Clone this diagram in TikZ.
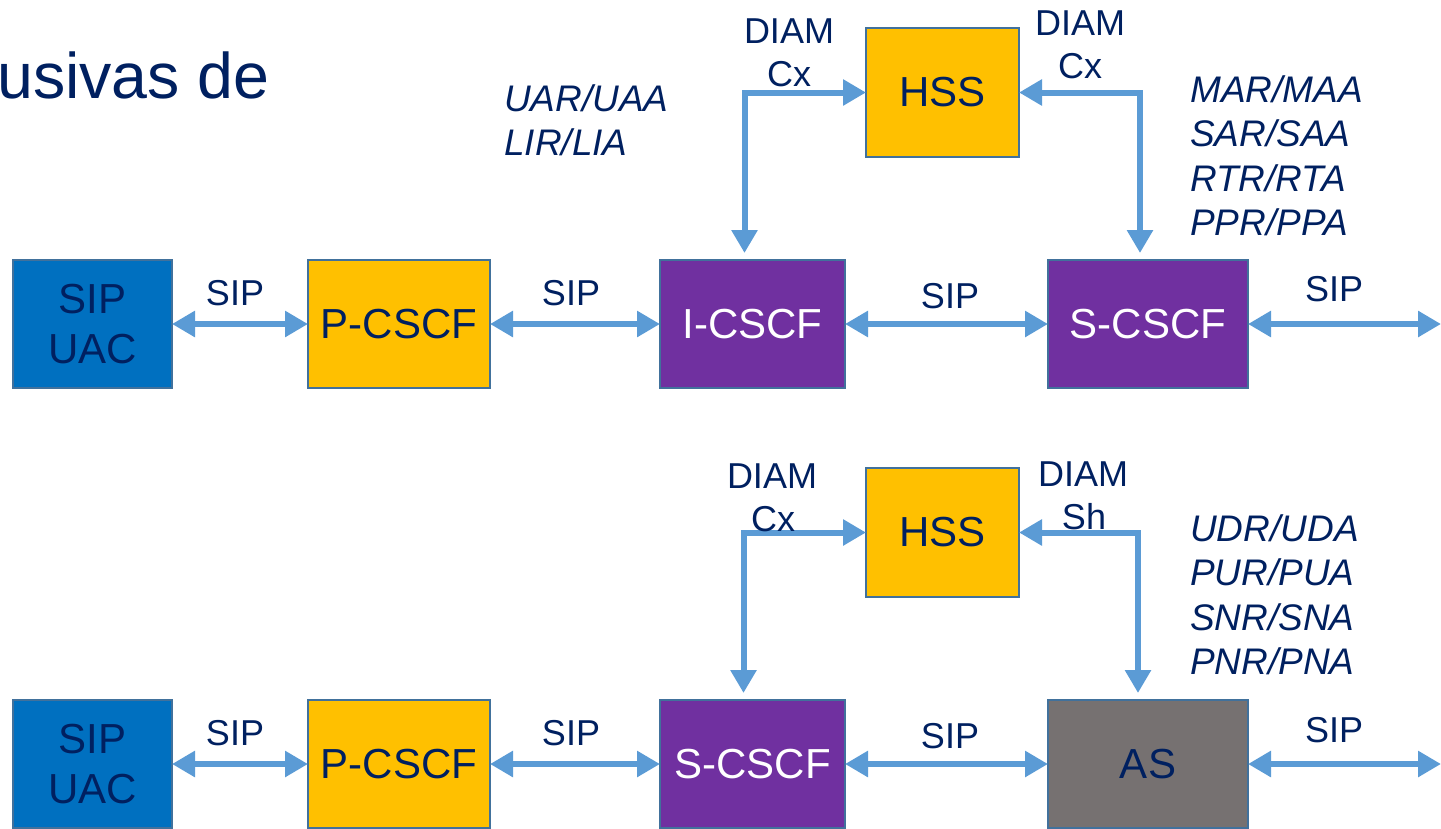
\documentclass[tikz,border=0pt]{standalone}
\usepackage{fontspec}
\setmainfont{Liberation Sans}
\usetikzlibrary{arrows.meta}
\definecolor{navy}{RGB}{0,32,96}
\definecolor{bluebox}{RGB}{0,112,192}
\definecolor{yellowbox}{RGB}{255,192,0}
\definecolor{purplebox}{RGB}{112,48,160}
\definecolor{graybox}{RGB}{118,113,113}
\definecolor{bordc}{RGB}{65,113,156}
\definecolor{arrowc}{RGB}{91,155,213}
\tikzset{
  box/.style={draw=bordc, line width=2pt, inner sep=0pt, outer sep=0pt, minimum height=128pt,
    font=\fontsize{42}{50}\selectfont, text=navy, align=center},
  lab/.style={font=\fontsize{36}{42}\selectfont, text=navy, anchor=base, inner sep=0pt},
  msg/.style={font=\fontsize{37}{44}\selectfont\itshape, text=navy, anchor=base west, inner sep=0pt},
  conn/.style={draw=arrowc, line width=6pt, {Triangle[length=23pt,width=25pt]}-{Triangle[length=23pt,width=25pt]}}
}
\begin{document}
\begin{tikzpicture}[x=1pt,y=-1pt]
\useasboundingbox (0,0) rectangle (1441,828);
% title fragment
\node[anchor=base west, inner sep=0pt, font=\fontsize{64.5}{70}\selectfont, text=navy] (title) at (-3,98) {usivas de};

% ---------- top row ----------
\node[box, fill=bluebox, minimum width=159pt] (uac1) at (92.5,324) {SIP\\UAC};
\node[box, fill=yellowbox, minimum width=182pt] (pcscf1) at (399,324) {P-CSCF};
\node[box, fill=purplebox, minimum width=185pt, text=white] (icscf) at (752.5,324) {I-CSCF};
\node[box, fill=purplebox, minimum width=200pt, text=white] (scscf1) at (1148,324) {S-CSCF};
\node[box, fill=yellowbox, minimum width=153pt, minimum height=129pt] (hss1) at (942.5,92.5) {HSS};
\coordinate (out1) at (1441,324);

\draw[conn] (uac1.east) -- (pcscf1.west);
\draw[conn] (pcscf1.east) -- (icscf.west);
\draw[conn] (icscf.east) -- (scscf1.west);
\draw[conn] (scscf1.east) -- (out1);
\draw[conn] (hss1.west) -| ([xshift=-8pt,yshift=7pt]icscf.north);
\draw[conn] (hss1.east) -| ([xshift=-8pt,yshift=7pt]scscf1.north);

\node[lab] (s1) at (235,305) {SIP};
\node[lab] (s2) at (571,305) {SIP};
\node[lab] (s3) at (950,308) {SIP};
\node[lab] (s4) at (1334,301) {SIP};
\node[lab] (d1) at (789,43) {DIAM};
\node[lab] (c1) at (789,86) {Cx};
\node[lab] (d2) at (1080,35) {DIAM};
\node[lab] (c2) at (1080,78) {Cx};
\node[msg] (u1) at (504,111) {UAR/UAA};
\node[msg] (u2) at (504,155) {LIR/LIA};
\node[msg] (m1) at (1190,102) {MAR/MAA};
\node[msg] (m2) at (1190,146.5) {SAR/SAA};
\node[msg] (m3) at (1190,191) {RTR/RTA};
\node[msg] (m4) at (1190,235.5) {PPR/PPA};

% ---------- bottom row ----------
\node[box, fill=bluebox, minimum width=159pt] (uac2) at (92.5,764) {SIP\\UAC};
\node[box, fill=yellowbox, minimum width=182pt] (pcscf2) at (399,764) {P-CSCF};
\node[box, fill=purplebox, minimum width=185pt, text=white] (scscf2) at (752.5,764) {S-CSCF};
\node[box, fill=graybox, minimum width=200pt] (as) at (1148,764) {AS};
\node[box, fill=yellowbox, minimum width=153pt, minimum height=129pt] (hss2) at (942.5,532.5) {HSS};
\coordinate (out2) at (1441,764);

\draw[conn] (uac2.east) -- (pcscf2.west);
\draw[conn] (pcscf2.east) -- (scscf2.west);
\draw[conn] (scscf2.east) -- (as.west);
\draw[conn] (as.east) -- (out2);
\draw[conn] (hss2.west) -| ([xshift=-9pt,yshift=7pt]scscf2.north);
\draw[conn] (hss2.east) -| ([xshift=-10pt,yshift=7pt]as.north);

\node[lab] (s5) at (235,745) {SIP};
\node[lab] (s6) at (571,745) {SIP};
\node[lab] (s7) at (950,748) {SIP};
\node[lab] (s8) at (1334,742) {SIP};
\node[lab] (d3) at (772,488) {DIAM};
\node[lab] (c3) at (773,531) {Cx};
\node[lab] (d4) at (1083,486) {DIAM};
\node[lab] (c4) at (1084,529) {Sh};
\node[msg] (n1) at (1190,541) {UDR/UDA};
\node[msg] (n2) at (1190,585.5) {PUR/PUA};
\node[msg] (n3) at (1190,630) {SNR/SNA};
\node[msg] (n4) at (1190,674.5) {PNR/PNA};
\end{tikzpicture}
\end{document}
